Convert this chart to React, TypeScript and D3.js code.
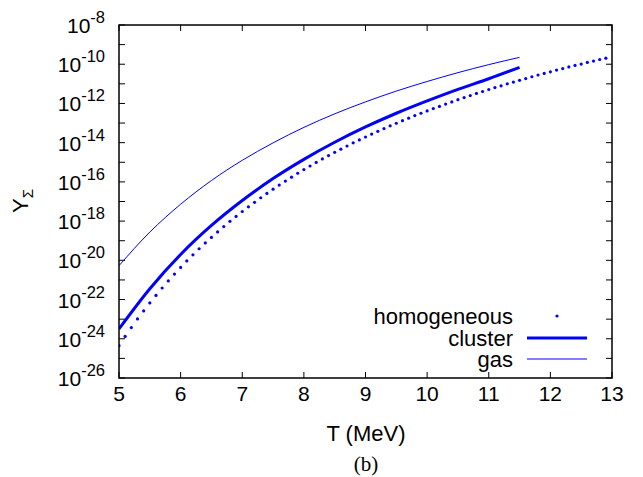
import React, { useEffect } from "react";
import * as d3 from "d3";

// T values (MeV)
const lineT: number[] = [5, 5.5, 6, 6.5, 7, 7.5, 8, 8.5, 9, 9.5, 10, 10.5, 11, 11.5];
// log10 Y values
const gasLog: number[] = [-20.27, -18.56, -17.14, -15.93, -14.9, -14.01, -13.22, -12.53, -11.92, -11.37, -10.88, -10.43, -10.02, -9.65];
const clusterLog: number[] = [-23.5, -21.45, -19.7, -18.22, -16.95, -15.83, -14.85, -13.98, -13.2, -12.5, -11.87, -11.28, -10.74, -10.16];

const homT: number[] = [
  5.0, 5.1, 5.2, 5.3, 5.4, 5.5, 5.6, 5.7, 5.8, 5.9,
  6.0, 6.1, 6.2, 6.3, 6.4, 6.5, 6.6, 6.7, 6.8, 6.9,
  7.0, 7.1, 7.2, 7.3, 7.4, 7.5, 7.6, 7.7, 7.8, 7.9,
  8.0, 8.1, 8.2, 8.3, 8.4, 8.5, 8.6, 8.7, 8.8, 8.9,
  9.0, 9.1, 9.2, 9.3, 9.4, 9.5, 9.6, 9.7, 9.8, 9.9,
  10.0, 10.1, 10.2, 10.3, 10.4, 10.5, 10.6, 10.7, 10.8, 10.9,
  11.0, 11.1, 11.2, 11.3, 11.4, 11.5, 11.6, 11.7, 11.8, 11.9,
  12.0, 12.1, 12.2, 12.3, 12.4, 12.5, 12.6, 12.7, 12.8, 12.9,
];
const homLog: number[] = [
  -24.35, -23.88, -23.43, -22.99, -22.58, -22.17, -21.79, -21.41, -21.05, -20.7,
  -20.36, -20.03, -19.72, -19.41, -19.11, -18.83, -18.55, -18.28, -18.01, -17.76,
  -17.51, -17.27, -17.04, -16.81, -16.59, -16.37, -16.16, -15.96, -15.76, -15.56,
  -15.37, -15.19, -15.01, -14.83, -14.66, -14.49, -14.33, -14.17, -14.01, -13.86,
  -13.71, -13.56, -13.42, -13.28, -13.14, -13.01, -12.88, -12.75, -12.62, -12.5,
  -12.38, -12.26, -12.15, -12.03, -11.92, -11.81, -11.7, -11.6, -11.49, -11.39,
  -11.29, -11.19, -11.1, -11.0, -10.91, -10.82, -10.73, -10.64, -10.55, -10.47,
  -10.39, -10.3, -10.22, -10.14, -10.06, -9.99, -9.91, -9.84, -9.76, -9.69,
];

const xTicks: number[] = [5, 6, 7, 8, 9, 10, 11, 12, 13];
const yTickExps: number[] = [-8, -10, -12, -14, -16, -18, -20, -22, -24, -26];
const yMinorExps: number[] = [-9, -11, -13, -15, -17, -19, -21, -23, -25];

const legendLabels: string[] = ["homogeneous", "cluster", "gas"];

const W = 643;
const H = 477;
const M = { left: 119, right: 612, top: 25, bottom: 378 };
const BLUE = "#0000ff";
const FONT = "'Liberation Sans', Arial, Helvetica, sans-serif";

export default function App() {
  useEffect(() => {
    document.body.style.margin = "0";
  }, []);

  const x = d3.scaleLinear().domain([5, 13]).range([M.left, M.right]);
  const y = d3.scaleLog().domain([1e-26, 1e-8]).range([M.bottom, M.top]);

  const line = d3
    .line<[number, number]>()
    .x((d) => x(d[0]))
    .y((d) => y(Math.pow(10, d[1])))
    .curve(d3.curveMonotoneX);

  const gasPts = lineT.map((t, i) => [t, gasLog[i]] as [number, number]);
  const clusterPts = lineT.map((t, i) => [t, clusterLog[i]] as [number, number]);

  const tickLen = 6;
  const legX1 = 527;
  const legX2 = 587;
  const legTextX = 513;
  const legY = [316, 338, 359];

  return (
    <svg width={W} height={H} style={{ display: "block", background: "#fff" }}>
      <rect x={0} y={0} width={W} height={H} fill="#fff" />
      <defs>
        <clipPath id="plotclip">
          <rect x={M.left} y={M.top} width={M.right - M.left} height={M.bottom - M.top} />
        </clipPath>
      </defs>

      {/* ticks */}
      <g stroke="#000" strokeWidth={1}>
        {xTicks.map((t) => (
          <g key={"xt" + t}>
            <line x1={x(t)} x2={x(t)} y1={M.bottom} y2={M.bottom - tickLen} />
            <line x1={x(t)} x2={x(t)} y1={M.top} y2={M.top + tickLen} />
          </g>
        ))}
        {[...yTickExps, ...yMinorExps].map((e) => (
          <g key={"yt" + e}>
            <line x1={M.left} x2={M.left + tickLen} y1={y(Math.pow(10, e))} y2={y(Math.pow(10, e))} />
            <line x1={M.right} x2={M.right - tickLen} y1={y(Math.pow(10, e))} y2={y(Math.pow(10, e))} />
          </g>
        ))}
      </g>

      {/* curves */}
      <g clipPath="url(#plotclip)">
        <path d={line(gasPts) || ""} fill="none" stroke={BLUE} strokeWidth={1} />
        <path d={line(clusterPts) || ""} fill="none" stroke={BLUE} strokeWidth={3} />
        {homT.map((t, i) => (
          <circle key={"h" + i} cx={x(t)} cy={y(Math.pow(10, homLog[i]))} r={1.6} fill={BLUE} />
        ))}
      </g>

      {/* frame */}
      <rect
        x={M.left}
        y={M.top}
        width={M.right - M.left}
        height={M.bottom - M.top}
        fill="none"
        stroke="#000"
        strokeWidth={1.5}
      />

      {/* x tick labels */}
      <g fontFamily={FONT} fontSize={21} fill="#000">
        {xTicks.map((t) => (
          <text key={"xl" + t} x={x(t)} y={401} textAnchor="middle">
            {t}
          </text>
        ))}
      </g>

      {/* y tick labels */}
      <g fontFamily={FONT} fill="#000">
        {yTickExps.map((e) => (
          <text key={"yl" + e} x={105} y={y(Math.pow(10, e)) + 8} textAnchor="end" fontSize={21}>
            10
            <tspan fontSize={16.5} dy={-10}>
              {String(e)}
            </tspan>
          </text>
        ))}
      </g>

      {/* axis titles */}
      <text x={366} y={441} textAnchor="middle" fontFamily={FONT} fontSize={22}>
        T (MeV)
      </text>
      <text
        transform={`translate(28,201) rotate(-90)`}
        textAnchor="middle"
        fontFamily={FONT}
        fontSize={22}
      >
        Y
        <tspan fontSize={15} dy={5}>
          Σ
        </tspan>
      </text>

      {/* legend */}
      <g fontFamily={FONT} fontSize={22}>
        {legendLabels.map((lab, i) => (
          <text key={lab} x={legTextX} y={legY[i] + 8} textAnchor="end">
            {lab}
          </text>
        ))}
        <circle cx={557} cy={legY[0]} r={1.6} fill={BLUE} />
        <line x1={legX1} x2={legX2} y1={legY[1]} y2={legY[1]} stroke={BLUE} strokeWidth={3} />
        <line x1={legX1} x2={legX2} y1={legY[2]} y2={legY[2]} stroke={BLUE} strokeWidth={1} />
      </g>

      {/* caption */}
      <text x={366} y={471} textAnchor="middle" fontFamily="'Liberation Serif', 'DejaVu Serif', serif" fontSize={21}>
        (b)
      </text>
    </svg>
  );
}
